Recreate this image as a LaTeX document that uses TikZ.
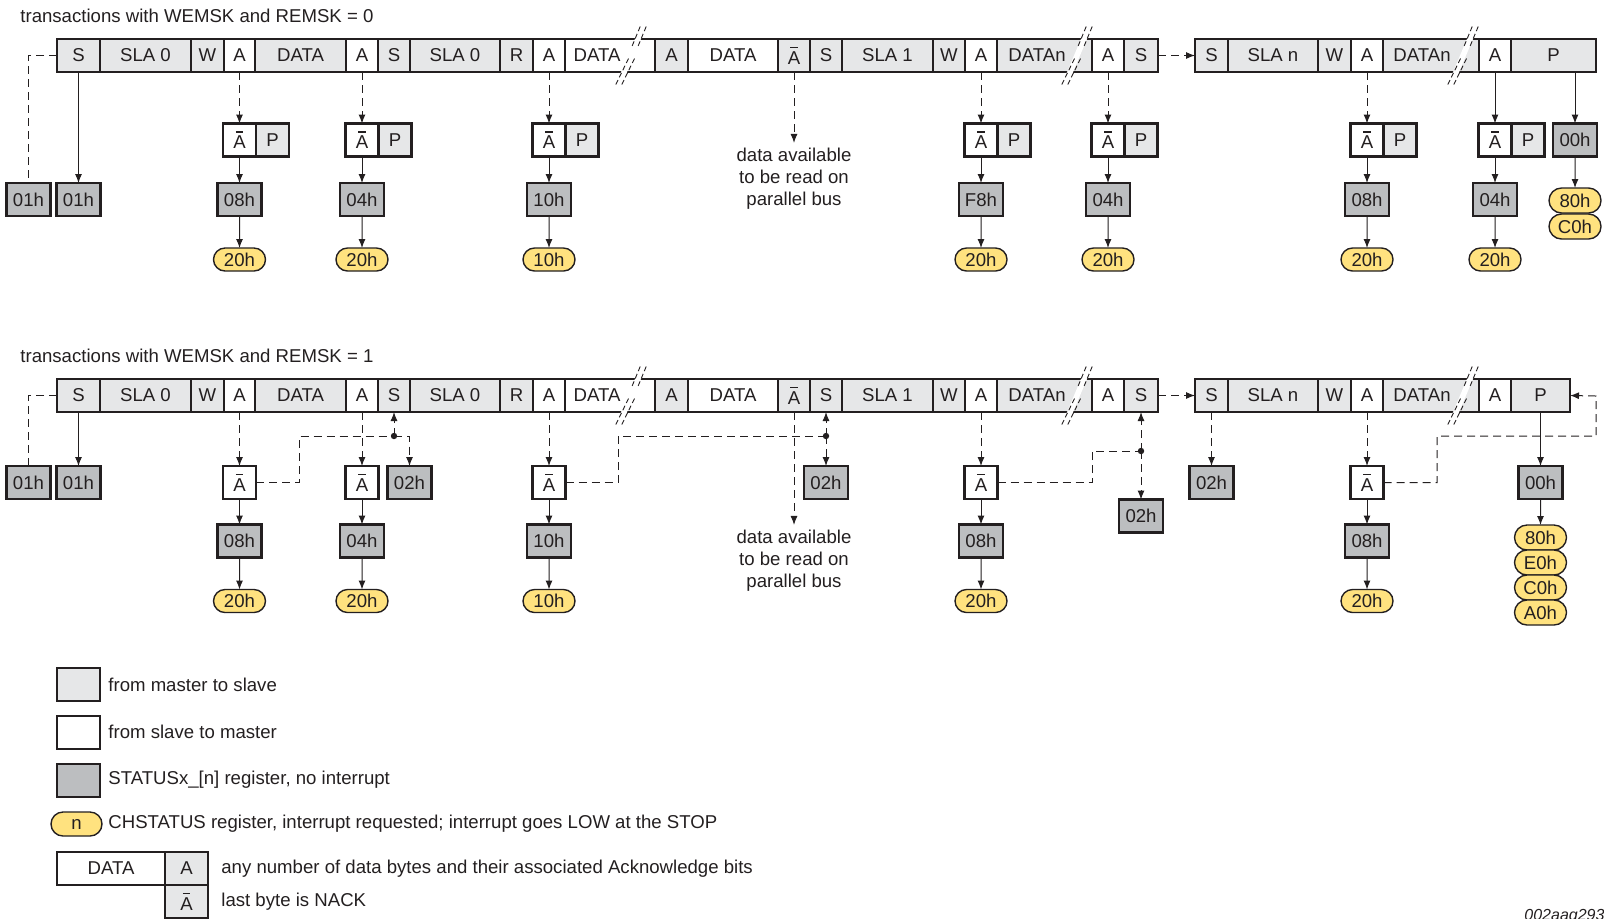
\documentclass[tikz,border=0pt]{standalone}
\usepackage{fontspec}
\setmainfont{Liberation Sans}
\usetikzlibrary{arrows.meta,shapes.misc}
\definecolor{ink}{HTML}{231F20}
\definecolor{lgray}{HTML}{E6E7E8}
\definecolor{dgray}{HTML}{BCBEC0}
\definecolor{yel}{HTML}{FFE27F}
\newcommand\nA{\leavevmode\rlap{\hbox to 0.667em{\hss\rule[0.88em]{0.4em}{0.075em}\hss}}A}
\newcommand\mkcell[6]{\node[#5, minimum width={(#3-#2)*0.5pt}, anchor=north west] (#1) at (#2,#4) {#6};}
\newcommand\brk[2]{%
  \fill[white] ({#1+9.2},{#2-29}) -- ({#1+15.2},{#2-29}) -- ({#1-9.2},{#2+29}) -- ({#1-15.2},{#2+29}) -- cycle;
  \draw[brkln] ({#1+9.2},{#2-29}) -- ({#1+0.5},{#2-8});
  \draw[brkln] ({#1+15.2},{#2-29}) -- ({#1+6.5},{#2-8});
  \draw[brkln] ({#1-2.5},{#2+3}) -- ({#1-15.2},{#2+29});
  \draw[brkln] ({#1+3.5},{#2+3}) -- ({#1-9.2},{#2+29});}
\newcommand\transbar[3]{%
  \mkcell{#1S1}{57}{100}{#2}{ms}{S}
  \mkcell{#1SLA0}{100}{191}{#2}{ms}{SLA 0}
  \mkcell{#1W1}{191}{224}{#2}{ms}{W}
  \mkcell{#1A1}{224}{255}{#2}{sm}{A}
  \mkcell{#1D1}{255}{346}{#2}{ms}{DATA}
  \mkcell{#1A2}{346}{378}{#2}{sm}{A}
  \mkcell{#1S2}{378}{410}{#2}{ms}{S}
  \mkcell{#1SLA0b}{410}{500}{#2}{ms}{SLA 0}
  \mkcell{#1R}{500}{533}{#2}{ms}{R}
  \mkcell{#1A3}{533}{565}{#2}{sm}{A}
  \mkcell{#1D2}{565}{655}{#2}{sm}{}
  \mkcell{#1A4}{655}{688}{#2}{ms}{A}
  \mkcell{#1D3}{688}{778}{#2}{sm}{DATA}
  \mkcell{#1NA}{778}{810}{#2}{ms}{\nA}
  \mkcell{#1S3}{810}{842}{#2}{ms}{S}
  \mkcell{#1SLA1}{842}{933}{#2}{ms}{SLA 1}
  \mkcell{#1W2}{933}{965}{#2}{ms}{W}
  \mkcell{#1A5}{965}{997}{#2}{sm}{A}
  \mkcell{#1D4}{997}{1092}{#2}{ms}{}
  \mkcell{#1A6}{1092}{1124}{#2}{sm}{A}
  \mkcell{#1S4}{1124}{1158}{#2}{ms}{S}
  \mkcell{#1S5}{1195}{1228}{#2}{ms}{S}
  \mkcell{#1SLAn}{1228}{1318}{#2}{ms}{SLA n}
  \mkcell{#1W3}{1318}{1351}{#2}{ms}{W}
  \mkcell{#1A7}{1351}{1383}{#2}{sm}{A}
  \mkcell{#1D5}{1383}{1479}{#2}{ms}{}
  \mkcell{#1A8}{1479}{1511}{#2}{sm}{A}
  \mkcell{#1P}{1511}{#3}{#2}{ms}{P}
  \brk{631}{#2+16.5}
  \brk{1077}{#2+16.5}
  \brk{1463}{#2+16.5}
  \node (#1D2t) at (597,{#2+16.5}) {DATA};
  \node (#1D4t) at (1037,{#2+16.5}) {DATAn};
  \node (#1D5t) at (1422,{#2+16.5}) {DATAn};
  \draw[darr] (#1S4.east) -- (#1S5.west);}
\newcommand\apbox[4]{%
  \node[sm, minimum width=16.5pt] (#1) at (#3,#4) {\nA};
  \node[ms, minimum width=16.5pt, anchor=west] (#2) at (#1.east) {P};}
\begin{document}
\begin{tikzpicture}[x=0.5pt,y=-0.5pt,
  font=\fontsize{9.3}{11}\selectfont, text=ink,
  cellbase/.style={draw=ink, line width=1.2pt, inner sep=0pt, outer sep=0pt, text=ink, minimum height=16.5pt},
  ms/.style={cellbase, fill=lgray},
  sm/.style={cellbase, fill=white},
  st/.style={cellbase, fill=dgray, minimum width=22pt},
  pill/.style={rounded rectangle, draw=ink, line width=0.7pt, fill=yel, minimum width=26pt, minimum height=11.5pt, inner sep=0pt, outer sep=0pt, text=ink},
  arr/.style={-{Latex[length=4.5pt,width=3.5pt]}, line width=0.5pt, draw=ink},
  darr/.style={arr, dash pattern=on 4pt off 2.5pt},
  dln/.style={line width=0.5pt, draw=ink, dash pattern=on 4pt off 2.5pt},
  brkln/.style={line width=0.45pt, draw=ink, dash pattern=on 2.5pt off 1.5pt},
  lbl/.style={anchor=west, inner sep=0pt}]
\useasboundingbox (0,0) rectangle (1604,918);

% ---------- titles ----------
\node[anchor=base west, inner sep=0pt] (title0) at (20,22) {transactions with WEMSK and REMSK = 0};
\node[anchor=base west, inner sep=0pt] (title1) at (20,362) {transactions with WEMSK and REMSK = 1};

% ================= TOP ROW =================
\transbar{t}{39}{1596}
\node[st] (t01a) at (28.5,199.5) {01h};
\node[st] (t01b) at (78.5,199.5) {01h};
\draw[dln] (tS1.west) -| (t01a.north);
\draw[arr] (tS1) -- (t01b);

\apbox{tqa1}{tqp1}{239.5}{140}
\node[st] (ts1) at (239.5,199.5) {08h};
\node[pill] (ty1) at (239.5,259.5) {20h};
\draw[darr] (tA1) -- (tqa1); \draw[arr] (tqa1) -- (ts1); \draw[arr] (ts1) -- (ty1);

\apbox{tqa2}{tqp2}{362}{140}
\node[st] (ts2) at (362,199.5) {04h};
\node[pill] (ty2) at (362,259.5) {20h};
\draw[darr] (tA2) -- (tqa2); \draw[arr] (tqa2) -- (ts2); \draw[arr] (ts2) -- (ty2);

\apbox{tqa3}{tqp3}{549}{140}
\node[st] (ts3) at (549,199.5) {10h};
\node[pill] (ty3) at (549,259.5) {10h};
\draw[darr] (tA3) -- (tqa3); \draw[arr] (tqa3) -- (ts3); \draw[arr] (ts3) -- (ty3);

\node[align=center, inner sep=2.5pt] (tTxt) at (794,179) {data available\\to be read on\\parallel bus};
\draw[darr] (tNA) -- (tTxt);

\apbox{tqa4}{tqp4}{981}{140}
\node[st] (ts4) at (981,199.5) {F8h};
\node[pill] (ty4) at (981,259.5) {20h};
\draw[darr] (tA5) -- (tqa4); \draw[arr] (tqa4) -- (ts4); \draw[arr] (ts4) -- (ty4);

\apbox{tqa5}{tqp5}{1108}{140}
\node[st] (ts5) at (1108,199.5) {04h};
\node[pill] (ty5) at (1108,259.5) {20h};
\draw[darr] (tA6) -- (tqa5); \draw[arr] (tqa5) -- (ts5); \draw[arr] (ts5) -- (ty5);

\apbox{tqa6}{tqp6}{1367}{140}
\node[st] (ts6) at (1367,199.5) {08h};
\node[pill] (ty6) at (1367,259.5) {20h};
\draw[darr] (tA7) -- (tqa6); \draw[arr] (tqa6) -- (ts6); \draw[arr] (ts6) -- (ty6);

\apbox{tqa7}{tqp7}{1495}{140}
\node[st] (ts7) at (1495,199.5) {04h};
\node[pill] (ty7) at (1495,259.5) {20h};
\draw[arr] (tA8) -- (tqa7); \draw[arr] (tqa7) -- (ts7); \draw[arr] (ts7) -- (ty7);

\node[st] (t00) at (1575,140) {00h};
\node[pill, minimum height=12.5pt] (tz1) at (1575,200.5) {80h};
\node[pill, minimum height=12.5pt] (tz2) at (1575,226.5) {C0h};
\draw[arr] (tP.south -| t00.north) -- (t00.north);
\draw[arr] (t00) -- (tz1);

% ================= BOTTOM ROW =================
\transbar{b}{379}{1570}
\node[st] (b01a) at (28.5,482.5) {01h};
\node[st] (b01b) at (78.5,482.5) {01h};
\draw[dln] (bS1.west) -| (b01a.north);
\draw[arr] (bS1) -- (b01b);

\foreach \i/\x/\s/\p/\src in {1/239.5/08h/20h/bA1, 2/362/04h/20h/bA2, 3/549/10h/10h/bA3, 4/981/08h/20h/bA5, 5/1367/08h/20h/bA7}{
  \node[sm, minimum width=16.5pt] (bqa\i) at (\x,482.5) {\nA};
  \node[st] (bs\i) at (\x,541) {\s};
  \node[pill] (by\i) at (\x,601) {\p};
  \draw[darr] (\src) -- (bqa\i);
  \draw[arr] (bqa\i) -- (bs\i);
  \draw[arr] (bs\i) -- (by\i);
}

\node[st] (b02a) at (409.5,482.5) {02h};
\node[st] (b02b) at (826,482.5) {02h};
\node[st] (b02c) at (1141,516) {02h};
\node[st] (b02d) at (1211.5,482.5) {02h};

\node[align=center, inner sep=2.5pt] (bTxt) at (794,561) {data available\\to be read on\\parallel bus};
\draw[darr] (bNA) -- (bTxt);

% junction 1
\coordinate (j1) at (394,436);
\draw[dln] (bqa1.east) -- (299,482.5) -- (299,436) -- (j1);
\draw[darr] (j1) -| (b02a.north);
\draw[darr] (j1) -- (bS2.south);
\fill[ink] (j1) circle (1.6pt);
% junction 2
\coordinate (j2) at (826,436);
\draw[dln] (bqa3.east) -- (618,482.5) -- (618,436) -- (j2);
\draw[darr] (j2) -- (b02b.north);
\draw[darr] (j2) -- (bS3.south);
\fill[ink] (j2) circle (1.6pt);
% junction 3
\coordinate (j3) at (1141,451);
\draw[dln] (bqa4.east) -- (1092,482.5) -- (1092,451) -- (j3);
\draw[darr] (j3) -- (bS4.south);
\draw[darr] (j3) -- (b02c.north);
\fill[ink] (j3) circle (1.6pt);
% right loop back to P
\draw[darr] (bqa5.east) -- (1437,482.5) -- (1437,436) -- (1596,436) -- (1596,396) -- (bP.east);

\draw[darr] (bS5) -- (b02d);

\node[st] (b00) at (1540.5,482.5) {00h};
\draw[arr] (bP) -- (b00);
\node[pill, minimum height=12.5pt] (bz1) at (1540.5,537.5) {80h};
\node[pill, minimum height=12.5pt] (bz2) at (1540.5,562.5) {E0h};
\node[pill, minimum height=12.5pt] (bz3) at (1540.5,587.5) {C0h};
\node[pill, minimum height=12.5pt] (bz4) at (1540.5,612.5) {A0h};
\draw[arr] (b00) -- (bz1);

% ================= LEGEND =================
\node[ms, minimum width=21.5pt, anchor=north west] (lg1) at (57,668) {};
\node[lbl] (lg1t) at (108,684.5) {from master to slave};
\node[sm, minimum width=21.5pt, anchor=north west] (lg2) at (57,716) {};
\node[lbl] (lg2t) at (108,731.5) {from slave to master};
\node[st, minimum width=21.5pt, anchor=north west] (lg3) at (57,764) {};
\node[lbl] (lg3t) at (108,779.5) {STATUSx\_[n] register, no interrupt};
\node[pill, minimum width=25.5pt, minimum height=12pt] (lg4) at (76.5,824) {n};
\node[lbl] (lg4t) at (108,824) {CHSTATUS register, interrupt requested; interrupt goes LOW at the STOP};
\node[sm, minimum width=54pt, anchor=north west] (lg5) at (57,852) {DATA};
\node[ms, minimum width=21.5pt, anchor=west] (lg5a) at (lg5.east) {A};
\node[ms, minimum width=21.5pt, anchor=north] (lg5b) at (lg5a.south) {\nA};
\node[lbl] (lg5t) at (221,868.5) {any number of data bytes and their associated Acknowledge bits};
\node[lbl] (lg6t) at (221,901.5) {last byte is NACK};

\node[anchor=base west, inner sep=0pt, font=\fontsize{8}{9}\selectfont\itshape] (fig) at (1524,920) {002aag293};
\end{tikzpicture}
\end{document}
